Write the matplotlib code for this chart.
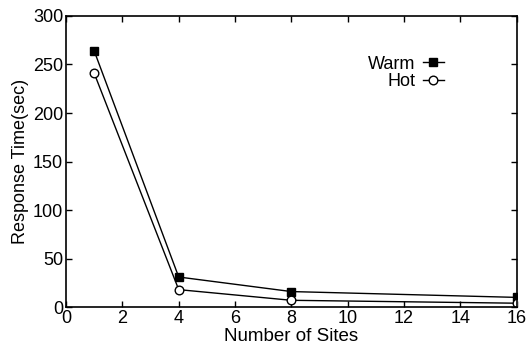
import matplotlib
matplotlib.use("Agg")
import matplotlib.pyplot as plt

sites = [1, 4, 8, 16]
warm = [264, 31, 16, 10]
hot = [241, 18, 7, 4]
xticks = [0, 2, 4, 6, 8, 10, 12, 14, 16]
yticks = [0, 50, 100, 150, 200, 250, 300]

plt.rcParams['font.family'] = ['Liberation Sans', 'DejaVu Sans']

fig = plt.figure(figsize=(5.26, 3.47), dpi=100)
ax = fig.add_axes([0.1255, 0.115, 0.857, 0.839])

ax.plot(sites, warm, color='black', lw=1.0, marker='s', markersize=6.2,
        markerfacecolor='black', markeredgecolor='black', label='Warm')
ax.plot(sites, hot, color='black', lw=1.0, marker='o', markersize=6.2,
        markerfacecolor='white', markeredgecolor='black', label='Hot')

ax.set_xlim(0, 16)
ax.set_ylim(0, 300)
ax.set_xticks(xticks)
ax.set_yticks(yticks)
ax.tick_params(direction='in', top=True, right=True, length=4, width=1,
               labelsize=13, pad=2)
for s in ax.spines.values():
    s.set_linewidth(1.2)
ax.set_xlabel('Number of Sites', fontsize=13.5, labelpad=1)
ax.set_ylabel('Response Time(sec)', fontsize=13, labelpad=3)

leg = ax.legend(loc='upper right', bbox_to_anchor=(0.875, 0.92), frameon=False,
                markerfirst=False, fontsize=13, handlelength=1.2,
                handletextpad=0.4, labelspacing=0.05)
for t in leg.get_texts():
    t.set_ha('right')

fig.savefig('out.png', dpi=100)
